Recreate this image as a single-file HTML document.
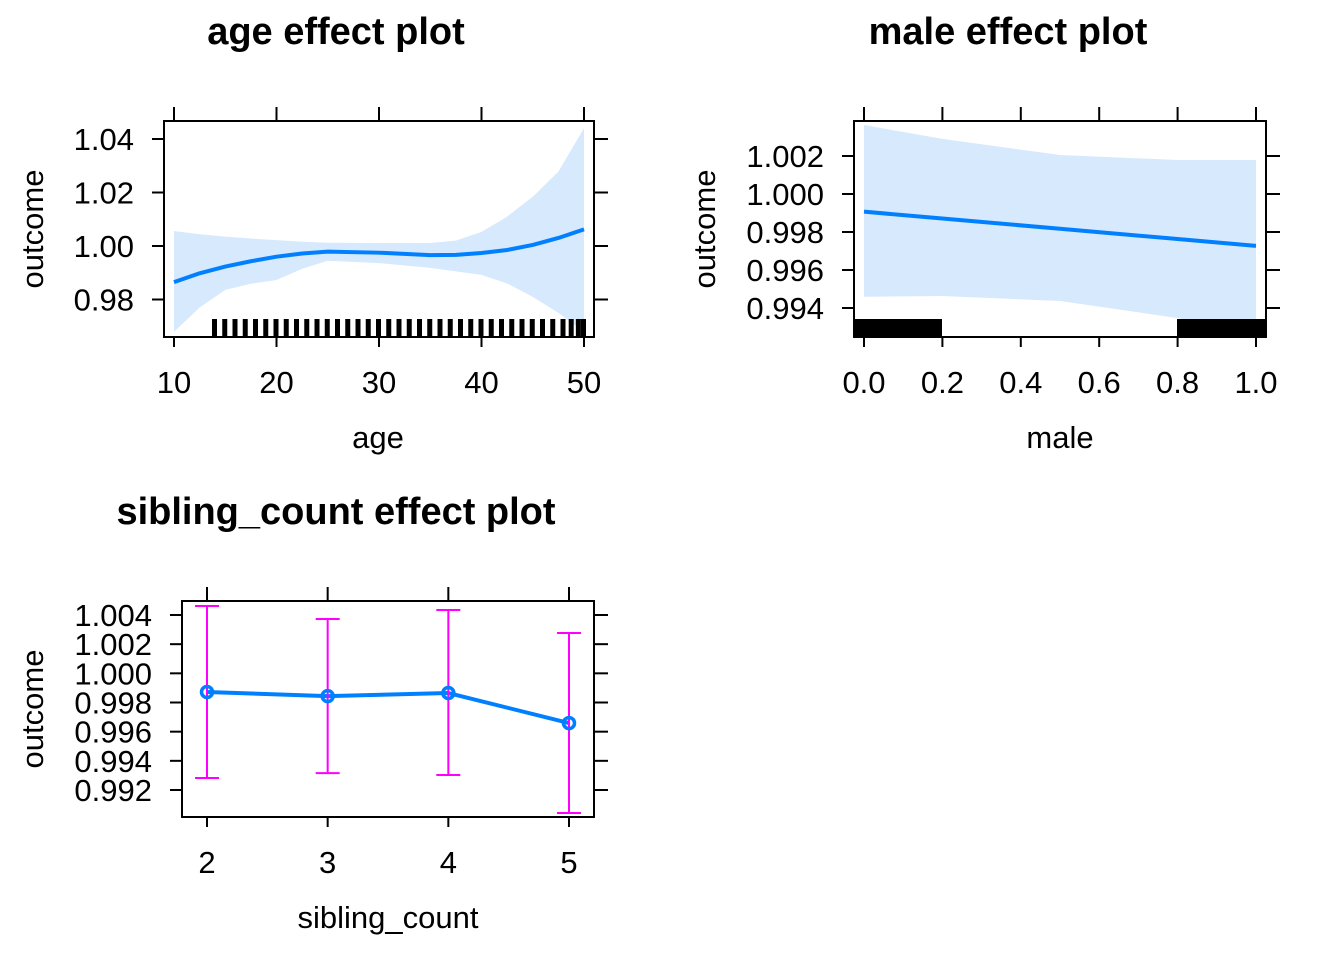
<!DOCTYPE html>
<html><head><meta charset="utf-8"><style>
html,body{margin:0;padding:0;background:#fff;}
svg{display:block;font-family:"Liberation Sans",Arial,sans-serif;}
</style></head><body>
<svg id="chart" width="1344" height="960" viewBox="0 0 1344 960" xmlns="http://www.w3.org/2000/svg">
<g id="root"></g>
</svg>
<script>
// age panel data
const ageX = [10,12.5,15,17.5,20,22.5,25,30,35,37.5,40,42.5,45,47.5,50];
const ageFit = [0.9865,0.9898,0.9923,0.9943,0.9960,0.9972,0.9979,0.9975,0.9966,0.9967,0.9974,0.9985,1.0004,1.0030,1.0062];
const ageUpper = [1.0056,1.0044,1.0035,1.0028,1.0022,1.0016,1.0012,1.0011,1.0011,1.0020,1.0053,1.0110,1.0184,1.0278,1.0440];
const ageLower = [0.9679,0.9770,0.9836,0.9859,0.9873,0.9915,0.9945,0.9936,0.9918,0.9905,0.9892,0.9860,0.9810,0.9750,0.9679];
const ageRug = [14,15,16,17,18,19,20,21,22,23,24,25,26,27,28,29,30,31,32,33,34,35,36,37,38,39,40,41,42,43,44,45,46,47,48,48.8,49.5,50];
const ageXTicks = [10,20,30,40,50];
const ageYTicks = [0.98,1.00,1.02,1.04];
// male panel data
const maleX = [0,0.2,0.5,0.8,1];
const maleFit = [0.99907,0.99871,0.99817,0.99763,0.99727];
const maleUpper = [1.00363,1.00290,1.00205,1.00179,1.00179];
const maleLower = [0.99459,0.99463,0.99437,0.99347,0.99274];
const maleXTicks = [0,0.2,0.4,0.6,0.8,1.0];
const maleYTicks = [0.994,0.996,0.998,1.000,1.002];
// sibling panel data
const sibX = [2,3,4,5];
const sibFit = [0.99872,0.99844,0.99865,0.99659];
const sibUpper = [1.00462,1.00373,1.00434,1.00277];
const sibLower = [0.99282,0.99316,0.99303,0.99042];
const sibXTicks = [2,3,4,5];
const sibYTicks = [0.992,0.994,0.996,0.998,1.000,1.002,1.004];

const NS='http://www.w3.org/2000/svg';
const root=document.getElementById('root');
function mk(tag,attrs,parent,text){const e=document.createElementNS(NS,tag);for(const k in attrs)e.setAttribute(k,attrs[k]);if(text!==undefined)e.textContent=text;(parent||root).appendChild(e);return e;}
function lin(d0,d1,r0,r1){return v=>r0+(v-d0)*(r1-r0)/(d1-d0);}

function panel(o){
  const g=mk('g',{});
  
  
  const t=mk('text',{x:o.titleX,y:o.titleY,'text-anchor':'middle','font-size':'38','font-weight':'bold'},g,o.title);
  
  
  if(o.band){
    let pts=o.band.x.map((v,i)=>o.sx(v)+','+o.sy(o.band.up[i]));
    for(let i=o.band.x.length-1;i>=0;i--)pts.push(o.sx(o.band.x[i])+','+o.sy(o.band.lo[i]));
    const b=mk('polygon',{points:pts.join(' '),fill:'#d7e9fc'},g);
    
    
  }
  o.extra&&o.extra(g);
  const fr=mk('rect',{x:o.x0,y:o.y0,width:o.x1-o.x0,height:o.y1-o.y0,fill:'none',stroke:'#000','stroke-width':2},g);
  
  
  o.xTicks.forEach(v=>{
    const x=o.sx(v);
    mk('line',{x1:x,x2:x,y1:o.y1,y2:o.y1+10,stroke:'#000','stroke-width':2},g);
    mk('line',{x1:x,x2:x,y1:o.y0,y2:o.y0-14,stroke:'#000','stroke-width':2},g);
    const tl=mk('text',{x:x,y:o.y1+56,'text-anchor':'middle','font-size':'31'},g,o.xFmt(v));
    
    
  });
  o.yTicks.forEach(v=>{
    const y=o.sy(v);
    mk('line',{x1:o.x0,x2:o.x0-12,y1:y,y2:y,stroke:'#000','stroke-width':2},g);
    mk('line',{x1:o.x1,x2:o.x1+14,y1:y,y2:y,stroke:'#000','stroke-width':2},g);
    const tl=mk('text',{x:o.x0-30,y:y+11,'text-anchor':'end','font-size':'31'},g,o.yFmt(v));
    
    
  });
  const xt=mk('text',{x:(o.x0+o.x1)/2+o.xtOff,y:o.y1+111,'text-anchor':'middle','font-size':'31'},g,o.xLabel);
  
  
  const yt=mk('text',{x:0,y:0,'text-anchor':'middle','font-size':'31',transform:`translate(${o.ytX},${(o.y0+o.y1)/2}) rotate(-90)`},g,'outcome');
  
  
  return g;
}

// Age
{
  const sx=lin(10,50,174,584), sy=lin(1.0,1.02,246,192.5);
  panel({name:'age',title:'age effect plot',titleX:336,titleY:44,x0:164,x1:594,y0:121,y1:337,sx,sy,
    xTicks:ageXTicks,yTicks:ageYTicks,xFmt:v=>String(v),yFmt:v=>v.toFixed(2),xLabel:'age',xtOff:-1,ytX:43,
    band:{x:ageX,up:ageUpper,lo:ageLower},
    extra:g=>{
      ageRug.forEach(a=>{const r=mk('rect',{x:sx(a)-3,y:319,width:5,height:18,fill:'#000'},g);
        
        });
      const l=mk('polyline',{points:ageX.map((v,i)=>sx(v)+','+sy(ageFit[i])).join(' '),fill:'none',stroke:'#0080ff','stroke-width':4,'stroke-linejoin':'round'},g);
      
      
    }});
}
// Male
{
  const sx=lin(0,1,864,1256), sy=lin(1.0,1.002,194,156);
  panel({name:'male',title:'male effect plot',titleX:1008,titleY:44,x0:854,x1:1266,y0:121,y1:337,sx,sy,
    xTicks:maleXTicks,yTicks:maleYTicks,xFmt:v=>v.toFixed(1),yFmt:v=>v.toFixed(3),xLabel:'male',xtOff:0,ytX:715,
    band:{x:maleX,up:maleUpper,lo:maleLower},
    extra:g=>{
      const r1=mk('rect',{x:854,y:319,width:88,height:18,fill:'#000'},g);
      
      
      const r2=mk('rect',{x:1177,y:319,width:89,height:18,fill:'#000'},g);
      
      
      const l=mk('polyline',{points:maleX.map((v,i)=>sx(v)+','+sy(maleFit[i])).join(' '),fill:'none',stroke:'#0080ff','stroke-width':4},g);
      
      
    }});
}
// Sibling
{
  const sx=lin(2,5,207,569), sy=lin(1.004,0.992,615,790);
  panel({name:'sibling',title:'sibling_count effect plot',titleX:336,titleY:524,x0:182,x1:594,y0:601,y1:817,sx,sy,
    xTicks:sibXTicks,yTicks:sibYTicks,xFmt:v=>String(v),yFmt:v=>v.toFixed(3),xLabel:'sibling_count',xtOff:0,ytX:43,
    extra:g=>{
      const l=mk('polyline',{points:sibX.map((v,i)=>sx(v)+','+sy(sibFit[i])).join(' '),fill:'none',stroke:'#0080ff','stroke-width':4},g);
      
      
      sibX.forEach((v,i)=>{
        const x=sx(v), yu=sy(sibUpper[i]), yl=sy(sibLower[i]);
        const e=mk('path',{d:`M${x},${yu}V${yl}M${x-12},${yu}H${x+12}M${x-12},${yl}H${x+12}`,stroke:'#ff00ff','stroke-width':2,fill:'none'},g);
        
        
        const c=mk('circle',{cx:x,cy:sy(sibFit[i]),r:5.5,fill:'none',stroke:'#0080ff','stroke-width':3.5},g);
        
        
      });
    }});
}
</script>
</body></html>
